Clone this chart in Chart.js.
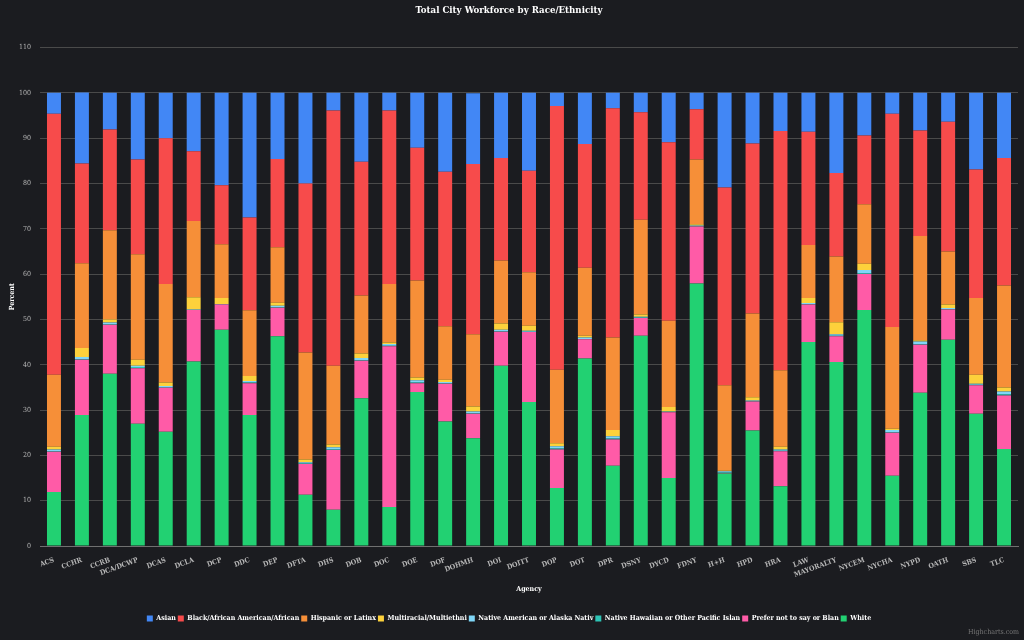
<!DOCTYPE html>
<html>
<head>
<meta charset="utf-8">
<script src="https://cdn.jsdelivr.net/npm/chart.js@4"></script>
<style>
  html, body { margin: 0; padding: 0; background: #1b1c20; }
  #wrap { width: 1024px; height: 640px; }
</style>
</head>
<body>
<div id="wrap"><canvas id="chart"></canvas></div>
<script>
// agencies along the x axis
const agencies = ["ACS", "CCHR", "CCRB", "DCA/DCWP", "DCAS", "DCLA", "DCP", "DDC", "DEP", "DFTA",
    "DHS", "DOB", "DOC", "DOE", "DOF", "DOHMH", "DOI", "DOITT", "DOP", "DOT", "DPR", "DSNY",
    "DYCD", "FDNY", "H+H", "HPD", "HRA", "LAW", "MAYORALTY", "NYCEM", "NYCHA", "NYPD", "OATH", "SBS", "TLC"];

// percent of workforce, one value per agency
const white = [11.9, 28.9, 38.0, 27.0, 25.2, 40.7, 47.7, 28.9, 46.3, 11.3, 8.0, 32.6, 8.6, 34.0, 27.5, 23.8, 39.8, 31.8,
    12.8, 41.4, 17.7, 46.4, 15.0, 57.9, 16.0, 25.5, 13.2, 45.0, 40.6, 52.1, 15.5, 33.8, 45.5, 29.2, 21.4];
const preferNot = [8.9, 12.2, 10.8, 12.2, 9.7, 11.4, 5.6, 7.0, 6.3, 6.8, 13.2, 8.3, 35.5, 1.9, 8.3, 5.4, 7.5, 15.4,
    8.5, 4.2, 5.8, 3.9, 14.5, 12.6, 0.1, 6.4, 7.7, 8.3, 5.7, 7.9, 9.5, 10.6, 6.7, 6.3, 11.8];
const nativeHawaiian = [0.1, 0.1, 0.2, 0.3, 0.1, 0.0, 0.0, 0.2, 0.1, 0.1, 0.1, 0.1, 0.1, 0.2, 0.1, 0.1, 0.1, 0.1,
    0.2, 0.1, 0.2, 0.1, 0.1, 0.1, 0.1, 0.1, 0.1, 0.1, 0.1, 0.2, 0.1, 0.1, 0.1, 0.1, 0.3];
const nativeAmerican = [0.4, 0.5, 0.3, 0.3, 0.3, 0.1, 0.1, 0.3, 0.3, 0.3, 0.5, 0.5, 0.4, 0.5, 0.3, 0.4, 0.3, 0.2,
    0.5, 0.3, 0.5, 0.2, 0.1, 0.1, 0.3, 0.1, 0.3, 0.2, 0.3, 0.7, 0.5, 0.6, 0.2, 0.2, 0.6];
const multiracial = [0.6, 2.0, 0.7, 1.3, 0.8, 2.7, 1.3, 1.1, 0.7, 0.6, 0.6, 1.0, 0.3, 0.6, 0.5, 1.1, 1.4, 1.1,
    0.7, 0.4, 1.4, 0.5, 1.0, 0.3, 0.1, 0.7, 0.6, 1.1, 2.7, 1.4, 0.3, 0.3, 0.8, 2.0, 0.9];
const hispanic = [15.9, 18.7, 19.7, 23.3, 21.7, 16.8, 11.9, 14.5, 12.2, 23.6, 17.4, 12.8, 12.9, 21.4, 11.8, 15.9, 13.9, 11.8,
    16.2, 15.0, 20.4, 20.9, 19.0, 14.3, 18.9, 18.5, 16.9, 11.7, 14.5, 13.1, 22.4, 23.0, 11.7, 16.9, 22.5];
const black = [57.6, 22.0, 22.2, 20.9, 32.2, 15.4, 13.0, 20.5, 19.5, 37.3, 56.3, 29.5, 38.3, 29.3, 34.1, 37.6, 22.6, 22.4,
    58.2, 27.3, 50.6, 23.7, 39.4, 11.1, 43.6, 37.5, 52.8, 25.0, 18.4, 15.2, 47.1, 23.3, 28.6, 28.4, 28.1];
const asian = [4.6, 15.7, 8.1, 14.7, 10.0, 12.9, 20.4, 27.5, 14.6, 20.0, 3.9, 15.2, 3.9, 12.1, 17.4, 15.6, 14.4, 17.2,
    2.9, 11.3, 3.4, 4.3, 10.9, 3.6, 20.9, 11.2, 8.4, 8.6, 17.7, 9.4, 4.6, 8.3, 6.4, 16.9, 14.4];

// legend order (top of stack first)
const seriesNames = ["Asian", "Black/African American/African", "Hispanic or Latinx", "Multiracial/Multiethnic",
    "Native American or Alaska Native", "Native Hawaiian or Other Pacific Islander", "Prefer not to say or Blank", "White"];
// legend text as it shows (clipped)
const legendText = ["Asian", "Black/African American/African", "Hispanic or Latinx", "Multiracial/Multiethni",
    "Native American or Alaska Nativ", "Native Hawaiian or Other Pacific Islan", "Prefer not to say or Blan", "White"];
const seriesValues = [asian, black, hispanic, multiracial, nativeAmerican, nativeHawaiian, preferNot, white];
const seriesColors = ["#4287f5", "#f74b4b", "#f68f38", "#fdd13b", "#7fd6f7", "#2ec4b6", "#ff5ba7", "#22d172"];

const yTicks = [0, 10, 20, 30, 40, 50, 60, 70, 80, 90, 100, 110];

const serif = "'DejaVu Serif Condensed', 'DejaVu Serif', serif";

// bottom of stack first for chart.js, legend reversed back
const datasets = seriesNames.map((name, i) => ({
    label: name,
    data: seriesValues[i],
    backgroundColor: seriesColors[i],
    borderWidth: 0,
    barPercentage: 0.5,
    categoryPercentage: 1.0
})).reverse();

const credits = {
    id: 'credits',
    afterDraw(chart) {
        const c = chart.ctx;
        c.save();
        c.font = "7px " + serif;
        c.fillStyle = '#777';
        c.textAlign = 'right';
        c.textBaseline = 'middle';
        c.fillText('Highcharts.com', 1019, 632);
        c.restore();
    }
};

new Chart(document.getElementById('chart'), {
    type: 'bar',
    data: { labels: agencies, datasets: datasets },
    plugins: [credits],
    options: {
        responsive: true,
        maintainAspectRatio: false,
        animation: false,
        layout: { padding: { left: 0, right: 6, top: 0, bottom: 8 } },
        plugins: {
            title: {
                display: true,
                text: 'Total City Workforce by Race/Ethnicity',
                color: '#ffffff',
                font: { family: serif, size: 9.6, weight: 'bold' },
                padding: { top: 5, bottom: 31 }
            },
            legend: {
                position: 'bottom',
                reverse: true,
                labels: {
                    color: '#ffffff',
                    boxWidth: 6,
                    boxHeight: 6,
                    padding: 2,
                    font: { family: serif, size: 7, weight: 'bold' },
                    generateLabels(chart) {
                        const items = Chart.defaults.plugins.legend.labels.generateLabels(chart);
                        items.forEach(it => {
                            const k = seriesNames.indexOf(it.text);
                            if (k >= 0) it.text = legendText[k];
                            it.lineWidth = 0;
                        });
                        return items;
                    }
                }
            },
            tooltip: { enabled: false }
        },
        scales: {
            x: {
                stacked: true,
                grid: { display: false },
                border: { color: '#707070' },
                ticks: {
                    color: '#b8b8b8',
                    autoSkip: false,
                    minRotation: 20,
                    maxRotation: 20,
                    padding: 2,
                    font: { family: serif, size: 7, weight: 'bold' }
                },
                title: {
                    display: true,
                    text: 'Agency',
                    color: '#ffffff',
                    font: { family: serif, size: 7, weight: 'bold' },
                    padding: { top: 0, bottom: 20 }
                },
                afterFit(scale) { scale.height = 67; }
            },
            y: {
                stacked: true,
                min: 0,
                max: 110,
                afterBuildTicks(scale) { scale.ticks = yTicks.map(v => ({ value: v })); },
                grid: { color: '#4a4a4a', drawTicks: false },
                border: { display: false },
                ticks: {
                    color: '#b8b8b8',
                    padding: 9,
                    font: { family: serif, size: 7 }
                },
                title: {
                    display: true,
                    text: 'Percent',
                    color: '#ffffff',
                    font: { family: serif, size: 7, weight: 'bold' },
                    padding: { top: 8, bottom: 0 }
                },
                afterFit(scale) { scale.width = 40; }
            }
        }
    }
});
</script>
</body>
</html>
